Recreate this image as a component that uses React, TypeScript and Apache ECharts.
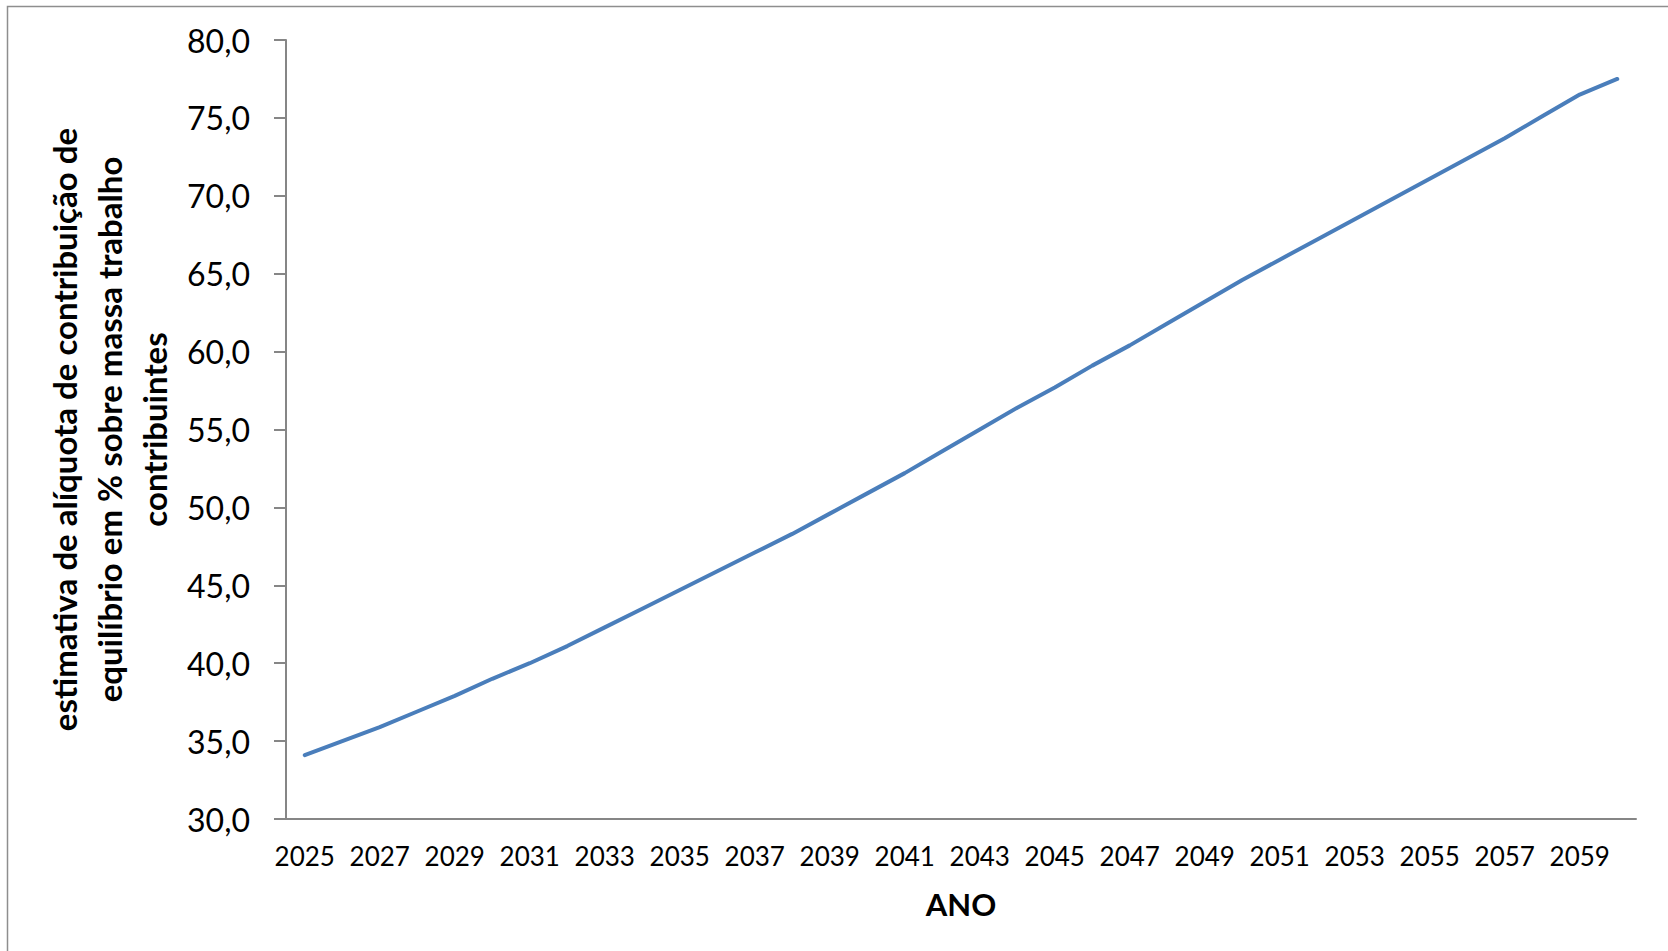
import React, { useEffect, useRef } from "react";
import * as echarts from "echarts";

// Years on the category axis (every year is a point; every other year is labelled)
const years: string[] = [
  "2025", "2026", "2027", "2028", "2029", "2030", "2031", "2032", "2033",
  "2034", "2035", "2036", "2037", "2038", "2039", "2040", "2041", "2042",
  "2043", "2044", "2045", "2046", "2047", "2048", "2049", "2050", "2051",
  "2052", "2053", "2054", "2055", "2056", "2057", "2058", "2059", "2060",
];

// Estimated equilibrium contribution rate (% of contributors' wage mass)
const aliquota: number[] = [
  34.1, 35.0, 35.9, 36.9, 37.9, 39.0, 40.0, 41.1, 42.3, 43.5, 44.7, 45.9,
  47.1, 48.3, 49.6, 50.9, 52.2, 53.6, 55.0, 56.4, 57.7, 59.1, 60.4, 61.8,
  63.2, 64.6, 65.9, 67.2, 68.5, 69.8, 71.1, 72.4, 73.7, 75.1, 76.5, 77.5,
];

const yMin = 30;
const yMax = 80;
const yStep = 5;

const yTitle =
  "estimativa de alíquota de contribuição de\nequilíbrio em % sobre massa trabalho\ncontribuintes";
const xTitle = "ANO";

const AXIS_GRAY = "#868686";
const LINE_BLUE = "#4a7ebb";
const FONT = "Lato, 'Noto Sans', sans-serif";

export default function App() {
  const ref = useRef<HTMLDivElement>(null);

  useEffect(() => {
    if (!ref.current) return;
    const chart = echarts.init(ref.current, undefined, { renderer: "svg" });
    chart.setOption({
      animation: false,
      backgroundColor: "#ffffff",
      grid: { left: 286, right: 32, top: 40, bottom: 132, containLabel: false },
      xAxis: {
        type: "category",
        data: years,
        boundaryGap: true,
        name: xTitle,
        nameLocation: "middle",
        nameGap: 69,
        nameTextStyle: { fontFamily: FONT, fontWeight: "bold", fontSize: 31, color: "#000" },
        axisLine: { show: true, lineStyle: { color: AXIS_GRAY, width: 2 } },
        axisTick: { show: false },
        axisLabel: {
          interval: 1,
          margin: 24,
          fontFamily: FONT,
          fontSize: 26,
          color: "#000",
        },
        splitLine: { show: false },
      },
      yAxis: {
        type: "value",
        min: yMin,
        max: yMax,
        interval: yStep,
        name: yTitle,
        nameLocation: "middle",
        nameRotate: 90,
        nameGap: 108,
        nameTextStyle: {
          fontFamily: FONT,
          fontWeight: "bold",
          fontSize: 33,
          lineHeight: 45,
          color: "#000",
          align: "center",
        },
        axisLine: { show: true, lineStyle: { color: AXIS_GRAY, width: 2 } },
        axisTick: { show: true, inside: false, length: 12, lineStyle: { color: AXIS_GRAY, width: 2 } },
        axisLabel: {
          margin: 36,
          fontFamily: FONT,
          fontSize: 32,
          color: "#000",
          formatter: (v: number) => v.toFixed(1).replace(".", ","),
        },
        splitLine: { show: false },
      },
      series: [
        {
          type: "line",
          data: aliquota,
          showSymbol: false,
          symbol: "none",
          lineStyle: { color: LINE_BLUE, width: 4, cap: "round", join: "round" },
        },
      ],
      graphic: [
        {
          type: "rect",
          silent: true,
          shape: { x: 7.5, y: 6.5, width: 1700, height: 1000 },
          style: { fill: "none", stroke: "#8e8e8e", lineWidth: 1.5 },
        },
      ],
    });
    return () => chart.dispose();
  }, []);

  return (
    <div
      ref={ref}
      style={{ position: "absolute", left: 0, top: 0, width: 1668, height: 951 }}
    />
  );
}
